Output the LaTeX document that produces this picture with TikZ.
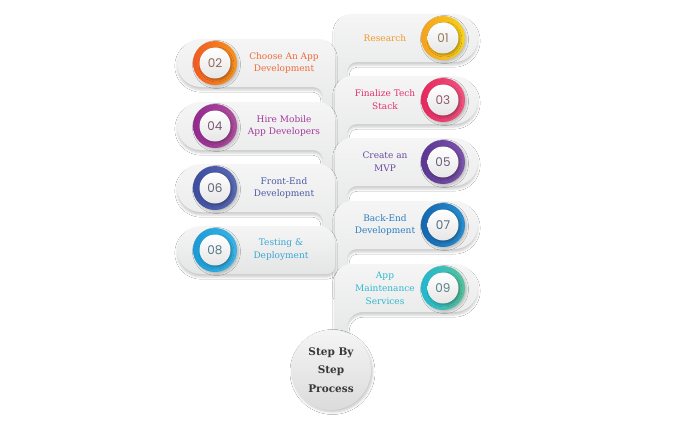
\documentclass[tikz,border=0pt]{standalone}
\usepackage{fontspec}
\setmainfont{DejaVu Serif}
\newfontfamily\numfont{Poppins}
\usetikzlibrary{shadows.blur}
\definecolor{pilltop}{HTML}{F5F5F5}
\definecolor{pillbot}{HTML}{E4E5E5}
\definecolor{discbot}{HTML}{E6E6E6}
\definecolor{aL}{HTML}{F4A11F}\definecolor{aR}{HTML}{F7D31A}\definecolor{aT}{HTML}{F09A2A}
\definecolor{bL}{HTML}{F05A22}\definecolor{bR}{HTML}{F7941E}\definecolor{bT}{HTML}{F06A3A}
\definecolor{cL}{HTML}{E5285E}\definecolor{cR}{HTML}{F0557F}\definecolor{cT}{HTML}{E5306A}
\definecolor{dL}{HTML}{93288F}\definecolor{dR}{HTML}{B0509E}\definecolor{dT}{HTML}{A0399B}
\definecolor{eL}{HTML}{5B3692}\definecolor{eR}{HTML}{7E55AC}\definecolor{eT}{HTML}{6A4A9E}
\definecolor{fL}{HTML}{3D4C9E}\definecolor{fR}{HTML}{5A6BB5}\definecolor{fT}{HTML}{4C5BA6}
\definecolor{gL}{HTML}{1466AE}\definecolor{gR}{HTML}{2A8FCF}\definecolor{gT}{HTML}{2C7EBE}
\definecolor{hL}{HTML}{1A9BD7}\definecolor{hR}{HTML}{3AB4E6}\definecolor{hT}{HTML}{3AA6D6}
\definecolor{iL}{HTML}{20B8D0}\definecolor{iR}{HTML}{58C39C}\definecolor{iT}{HTML}{2FB8CF}
\tikzset{
  pill/.style={top color=pilltop, bottom color=pillbot, draw=none,
    blur shadow={shadow xshift=0pt, shadow yshift=-3pt, shadow blur radius=2.2pt, shadow opacity=20}},
  ring/.style={circle, minimum size=44pt, inner sep=0pt, draw=none,
    blur shadow={shadow xshift=1.5pt, shadow yshift=-1.5pt, shadow blur radius=2pt, shadow opacity=22}},
  disc/.style={circle, minimum size=31pt, inner sep=0pt, top color=white, bottom color=discbot, draw=none,
    font=\numfont\fontsize{12}{12}\selectfont,
    blur shadow={shadow xshift=1.5pt, shadow yshift=-1.5pt, shadow blur radius=2pt, shadow opacity=30}},
  lbl/.style={align=center, font=\fontsize{9}{12.8}\selectfont, inner sep=0pt},
  hub/.style={circle, minimum size=80pt, inner sep=0pt, draw=none, top color=white!96!black, bottom color=white!86!black,
    align=center, font=\bfseries\fontsize{10.5}{18.5}\selectfont, text=black!78,
    blur shadow={shadow xshift=1.5pt, shadow yshift=-2pt, shadow blur radius=2.5pt, shadow opacity=22}},
}
% right pill: #1 id, #2 top, #3 strip end, #4 colour prefix, #5 number, #6 label, #7 fillet radius
\newcommand\RPill[7]{%
  \path[pill] (335,#3) -- (335,#2+16) arc[start angle=180, end angle=270, radius=16]
    -- (454,#2) arc[start angle=270, end angle=450, radius=24]
    -- (347+#7,#2+48) arc[start angle=270, end angle=180, radius=#7]
    -- (347,#3) -- cycle;
  \node[ring, left color=#4L, right color=#4R] (ring#1) at (443,#2+24) {};
  \node[disc, text=#4L!40!black!70] (num#1) at (ring#1) {#5};
  \node[lbl, text=#4T] (lbl#1) at (385,#2+24) {#6};
}
% left pill: #1 id, #2 top, #3 strip end, #4 colour prefix, #5 number, #6 label
\newcommand\LPill[6]{%
  \path[pill] (335,#3) -- (335,#2+16) arc[start angle=0, end angle=-90, radius=16]
    -- (201,#2) arc[start angle=-90, end angle=-270, radius=24]
    -- (313,#2+48) arc[start angle=-90, end angle=0, radius=10]
    -- (323,#3) -- cycle;
  \node[ring, left color=#4L, right color=#4R] (ring#1) at (215,#2+24) {};
  \node[disc, text=#4L!40!black!70] (num#1) at (ring#1) {#5};
  \node[lbl, text=#4T] (lbl#1) at (284,#2+24) {#6};
}
\begin{document}
\begin{tikzpicture}[x=1pt,y=-1pt]
\fill[white] (0,0) rectangle (700,420);
\RPill{a}{14}{106}{a}{01}{Research}{10}
\LPill{b}{39}{132}{b}{02}{Choose An App\\Development}
\RPill{c}{76}{168}{c}{03}{Finalize Tech\\Stack}{10}
\LPill{d}{102}{194}{d}{04}{Hire Mobile\\App Developers}
\RPill{e}{138}{231}{e}{05}{Create an\\MVP}{10}
\LPill{f}{164}{256}{f}{06}{Front-End\\Development}
\RPill{g}{201}{294}{g}{07}{Back-End\\Development}{10}
% last left pill, no strip
\path[pill] (335,226+16) arc[start angle=0, end angle=-90, radius=16]
    -- (201,226) arc[start angle=-90, end angle=-270, radius=24]
    -- (327,226+48) arc[start angle=90, end angle=0, radius=8] -- cycle;
\node[ring, left color=hL, right color=hR] (ringh) at (215,250) {};
\node[disc, text=hL!40!black!70] (numh) at (ringh) {08};
\node[lbl, text=hT] (lblh) at (281,250) {Testing \&\\Deployment};
\RPill{i}{264}{345}{i}{09}{App\\Maintenance\\Services}{16}
\node[hub] (hub) at (331,370) {Step By\\Step\\Process};
\pgfresetboundingbox
\path[use as bounding box] (0,0) rectangle (700,420);
\end{tikzpicture}
\end{document}
